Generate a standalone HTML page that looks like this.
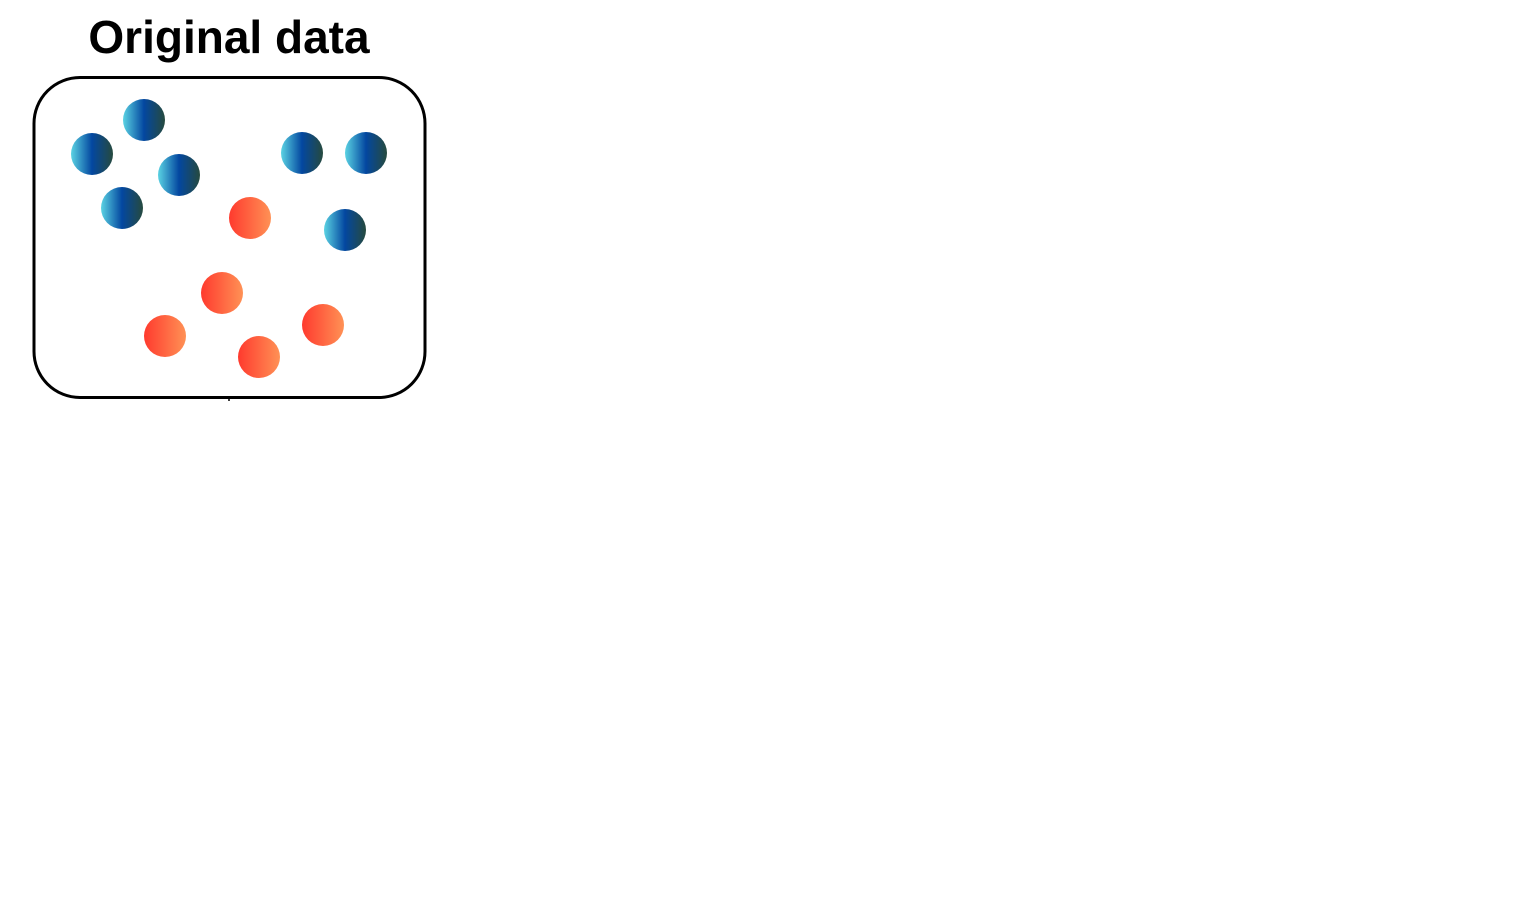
<!DOCTYPE html>
<html><head><meta charset="utf-8">
<style>
html,body{margin:0;padding:0;background:#fff;width:1528px;height:917px;overflow:hidden}
</style></head>
<body>
<svg width="1528" height="917" xmlns="http://www.w3.org/2000/svg">
<defs>
<linearGradient id="gb" x1="0" x2="1" y1="0" y2="0">
<stop offset="0" stop-color="#5bd3e3"/><stop offset="0.5" stop-color="#0347a0"/><stop offset="1" stop-color="#264a3e"/>
</linearGradient>
<linearGradient id="gr" x1="0" x2="1" y1="0" y2="0">
<stop offset="0" stop-color="#ff3a2e"/><stop offset="1" stop-color="#ff9155"/>
</linearGradient>
</defs>
<text x="229" y="53" text-anchor="middle" font-family="Liberation Sans, sans-serif" font-weight="bold" font-size="46" fill="#000">Original data</text>
<rect x="34" y="77.5" width="391" height="320" rx="46" ry="46" fill="none" stroke="#000" stroke-width="3"/>
<line x1="229" y1="398" x2="229" y2="401" stroke="#000" stroke-width="1.5"/>
<g id="pts"></g>
</svg>
<script>
const blueX=[92,144,179,122,302,366,345];
const blueY=[154,120,175,208,153,153,230];
const redX=[250,222,165,259,323];
const redY=[218,293,336,357,325];
const g=document.getElementById('pts');
function draw(xs,ys,fill,name){
  for(let i=0;i<xs.length;i++){
    const c=document.createElementNS('http://www.w3.org/2000/svg','circle');
    c.setAttribute('cx',xs[i]);c.setAttribute('cy',ys[i]);c.setAttribute('r',21);
    c.setAttribute('fill',fill);
    
    
    g.appendChild(c);
  }
}
draw(blueX,blueY,'url(#gb)','blue-point');
draw(redX,redY,'url(#gr)','red-point');
</script>
</body></html>
